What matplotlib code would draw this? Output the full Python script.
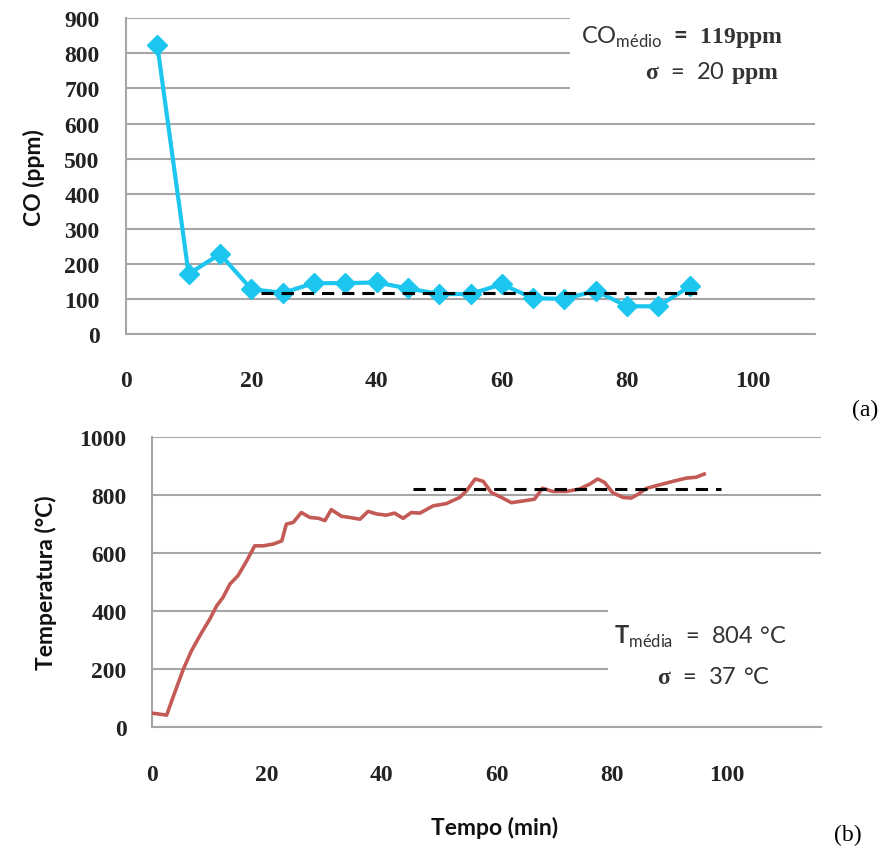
import matplotlib
matplotlib.use('Agg')
import matplotlib.pyplot as plt
from matplotlib.patches import Rectangle

# Dados (a): CO ao longo do tempo
tempo_co = [5, 10, 15, 20, 25, 30, 35, 40, 45, 50, 55, 60, 65, 70, 75, 80, 85, 90]
co_ppm = [823, 171, 228, 128, 117, 145, 145, 147, 130, 114, 114, 142, 102, 100, 123, 79, 79, 136]
co_media_x = [21.6, 91.6]
co_media_y = [118, 118]

# Dados (b): temperatura ao longo do tempo
tempo_t = [0, 2.6, 3.8, 5.5, 6.9, 8.7, 10.1, 11.3, 12.4, 13.6, 15.0, 16.5, 17.9, 19.4,
           21.1, 22.6, 23.4, 24.6, 26.0, 27.5, 29.0, 30.1, 31.2, 33.0, 34.4, 36.2, 37.6,
           39.1, 40.8, 42.2, 43.7, 45.1, 46.6, 48.9, 51.2, 53.5, 54.7, 56.2, 57.6, 59.0,
           60.8, 62.5, 64.5, 66.5, 67.9, 69.7, 72.0, 74.3, 76.1, 77.5, 78.7, 80.1, 81.9,
           83.3, 84.5, 86.0, 88.3, 90.6, 92.9, 94.6, 96.0]
temp_c = [47, 40, 107, 199, 262, 326, 372, 418, 447, 493, 522, 573, 625, 625,
          631, 642, 700, 706, 740, 723, 720, 712, 750, 727, 723, 717, 744,
          735, 731, 738, 720, 740, 738, 763, 771, 792, 815, 856, 848, 809,
          792, 774, 780, 786, 824, 813, 813, 821, 838, 856, 844, 809, 792,
          790, 803, 824, 836, 848, 859, 862, 873]
t_media_x = [45.4, 99.0]
t_media_y = [823, 823]

plt.rcParams['mathtext.fontset'] = 'custom'
plt.rcParams['mathtext.rm'] = 'Lato'
plt.rcParams['mathtext.sf'] = 'Lato:bold'
plt.rcParams['mathtext.bf'] = 'Liberation Serif:bold'

W, H = 884, 854
fig = plt.figure(figsize=(8.84, 8.54), dpi=100)

grid_cor = '#a6a6a6'
tick_font = dict(family='Liberation Serif', weight='bold', size=17, color='#222222')
label_font = dict(family='Lato', weight='bold', size=16.5, color='#111111')


def estilo_eixo(ax, xpad, ypad):
    for s in ['top', 'right']:
        ax.spines[s].set_visible(False)
    for s in ['left', 'bottom']:
        ax.spines[s].set_color(grid_cor)
        ax.spines[s].set_linewidth(1.5)
    ax.grid(True, axis='y', color=grid_cor, linewidth=1.5)
    ax.set_axisbelow(True)
    ax.tick_params(length=0)
    ax.tick_params(axis='x', pad=xpad)
    ax.tick_params(axis='y', pad=ypad)
    for lab in ax.get_xticklabels() + ax.get_yticklabels():
        lab.set_fontfamily(tick_font['family'])
        lab.set_fontweight(tick_font['weight'])
        lab.set_fontsize(tick_font['size'])
        lab.set_color(tick_font['color'])


# (a) CO
ax1 = fig.add_axes([126 / W, 519 / H, 689 / W, 315.7 / H])
ax1.plot(tempo_co, co_ppm, color='#1cc6ee', lw=3, marker='D', markersize=10.5, zorder=3)
ax1.plot(co_media_x, co_media_y, color='black', lw=2.2, linestyle=(0, (4, 2.6)), zorder=4)
ax1.set_xlim(0, 110)
ax1.set_ylim(0, 900)
ax1.set_xticks([0, 20, 40, 60, 80, 100])
ax1.set_yticks(range(0, 901, 100))
estilo_eixo(ax1, 26, 19)
ax1.set_ylabel('CO (ppm)', labelpad=14, **label_font)
ax1.add_patch(Rectangle((570 / W, 1 - 105 / H), 250 / W, 95 / H, transform=fig.transFigure,
                        facecolor='white', edgecolor='none', zorder=5))
fig.text(783 / W, 1 - 37 / H, r'$\mathrm{CO}_{\mathrm{médio}}\mathsf{\ =\ }\mathbf{119ppm}$',
         ha='right', va='center', fontsize=17, color='#333333', zorder=6)
fig.text(779 / W, 1 - 73 / H, r'$\mathbf{σ}\mathrm{\ =\ 20\ }\mathbf{ppm}$',
         ha='right', va='center', fontsize=17, color='#333333', zorder=6)
fig.text(865 / W, 1 - 410 / H, '(a)', family='Liberation Serif', fontsize=17,
         ha='center', va='center')

# (b) Temperatura
ax2 = fig.add_axes([151.7 / W, 126.3 / H, 669.3 / W, 289.4 / H])
ax2.plot(tempo_t, temp_c, color='#c45a56', lw=2.6, zorder=3)
ax2.plot(t_media_x, t_media_y, color='black', lw=2.2, linestyle=(0, (4, 2.6)), zorder=4)
ax2.set_xlim(0, 116.3)
ax2.set_ylim(0, 1000)
ax2.set_xticks([0, 20, 40, 60, 80, 100])
ax2.set_yticks(range(0, 1001, 200))
estilo_eixo(ax2, 27, 18)
ax2.set_ylabel('Temperatura (°C)', labelpad=16, **label_font)
ax2.add_patch(Rectangle((608 / W, 1 - 700 / H), 220 / W, 110 / H, transform=fig.transFigure,
                        facecolor='white', edgecolor='none', zorder=5))
fig.text(787 / W, 1 - 637 / H, r'$\mathsf{T}_{\mathrm{média}}\mathrm{\ =\ 804\ °C}$',
         ha='right', va='center', fontsize=17, color='#333333', zorder=6)
fig.text(770 / W, 1 - 677 / H, r'$\mathbf{σ}\mathrm{\ =\ 37\ °C}$',
         ha='right', va='center', fontsize=17, color='#333333', zorder=6)
fig.text(495 / W, 1 - 828 / H, 'Tempo (min)', ha='center', va='center', **label_font)
fig.text(848 / W, 1 - 835 / H, '(b)', family='Liberation Serif', fontsize=17,
         ha='center', va='center')

fig.savefig('out.png', dpi=100)
